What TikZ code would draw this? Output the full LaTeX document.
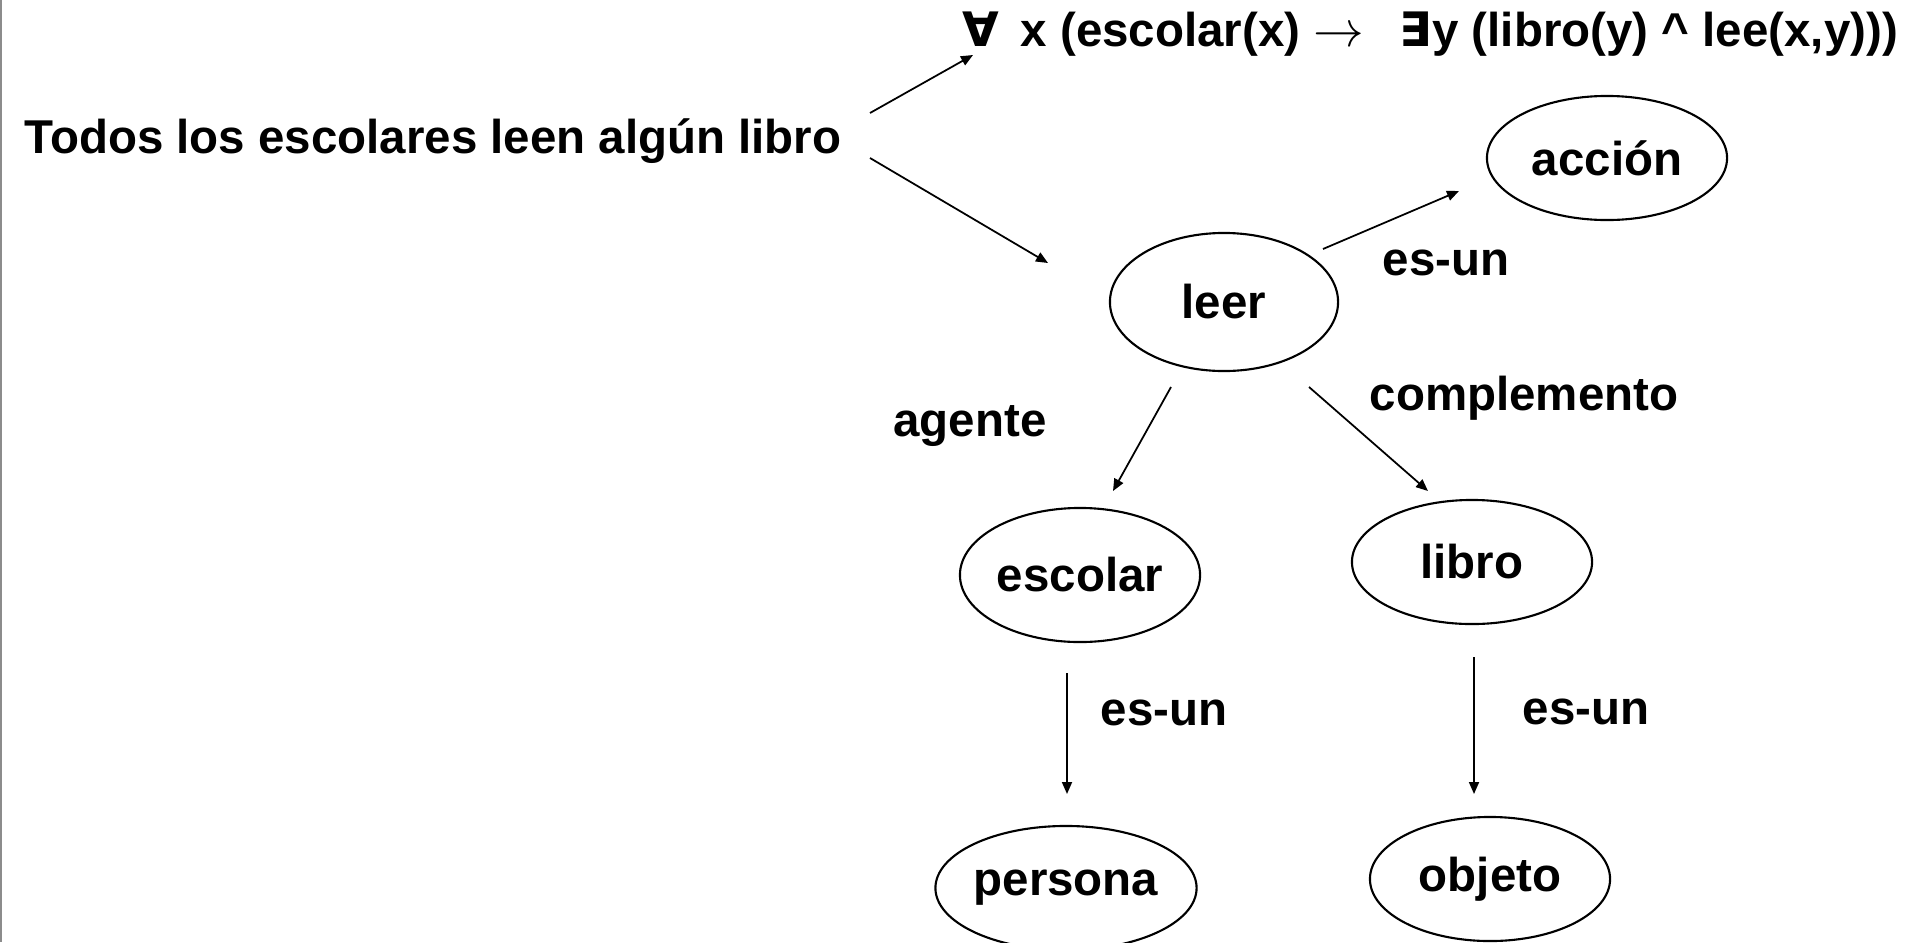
\documentclass[tikz,border=0pt]{standalone}
\usepackage{fontspec}
\setmainfont{Liberation Sans}
\newfontfamily\symfont{DejaVu Sans}
\usetikzlibrary{arrows.meta,shapes.geometric}
\tikzset{
	txt/.style={font=\fontsize{13.5}{16}\selectfont\bfseries, inner sep=0pt},
	concept/.style={txt, draw, line width=0.6pt, ellipse, minimum width=2.40cm, minimum height=1.24cm},
	rel/.style={line width=0.5pt, -{Triangle[length=1.2mm, width=1mm]}}
}

\begin{document}
\begin{tikzpicture}[x=0.01cm, y=-0.01cm]
		%%%%% START %%%%%
		\useasboundingbox (0, 0) rectangle (1909, 942);
		\draw[line width=0.6pt, color=black!45] (1, 0) -- (1, 942);
		
		\node[txt] (frase) at (433, 141) {Todos los escolares leen algún libro};
		\node[txt, anchor=west] (logica) at (962, 34) {{\symfont ∀}\hspace{0.45em}x (escolar(x) $\rightarrow$\hspace{0.75em}{\symfont ∃}y (libro(y) \^{} lee(x,y)))};
		
		\node[concept] (accion) at (1607, 158) {acción};
		\node[concept, minimum width=2.28cm, minimum height=1.38cm] (leer) at (1224, 302) {leer};
		\node[concept, minimum height=1.34cm] (escolar) at (1080, 575) {escolar};
		\node[concept] (libro) at (1472, 562) {libro};
		\node[concept, minimum width=2.44cm] (persona) at (1066, 888) {persona};
		\node[concept] (objeto) at (1490, 879) {objeto};
		
		\node[txt] (isa1) at (1446, 263) {es-un};
		\node[txt] (agente) at (970, 426) {agente};
		\node[txt] (compl) at (1524, 398) {complemento};
		\node[txt] (isa2) at (1164, 713) {es-un};
		\node[txt] (isa3) at (1586, 712) {es-un};
		
		% free ends of the arrows
		\coordinate (f1) at (870, 113);
		\coordinate (f2) at (870, 158);
		\coordinate (l1) at (1323, 249);
		\coordinate (l2) at (1171, 387);
		\coordinate (l3) at (1309, 387);
		\coordinate (e1) at (1067, 673);
		\coordinate (b1) at (1474, 657);
		\coordinate (t1) at (973, 55);
		\coordinate (t2) at (1048, 263);
		\coordinate (t3) at (1459, 191);
		\coordinate (t4) at (1113, 491);
		\coordinate (t5) at (1428, 491);
		\coordinate (t6) at (1067, 794);
		\coordinate (t7) at (1474, 794);
		
		\draw[rel] (f1) -- (t1);
		\draw[rel] (f2) -- (t2);
		\draw[rel] (l1) -- (t3);
		\draw[rel] (l2) -- (t4);
		\draw[rel] (l3) -- (t5);
		\draw[rel] (e1) -- (t6);
		\draw[rel] (b1) -- (t7);
		%%%%% END %%%%%
\end{tikzpicture}
\end{document}
